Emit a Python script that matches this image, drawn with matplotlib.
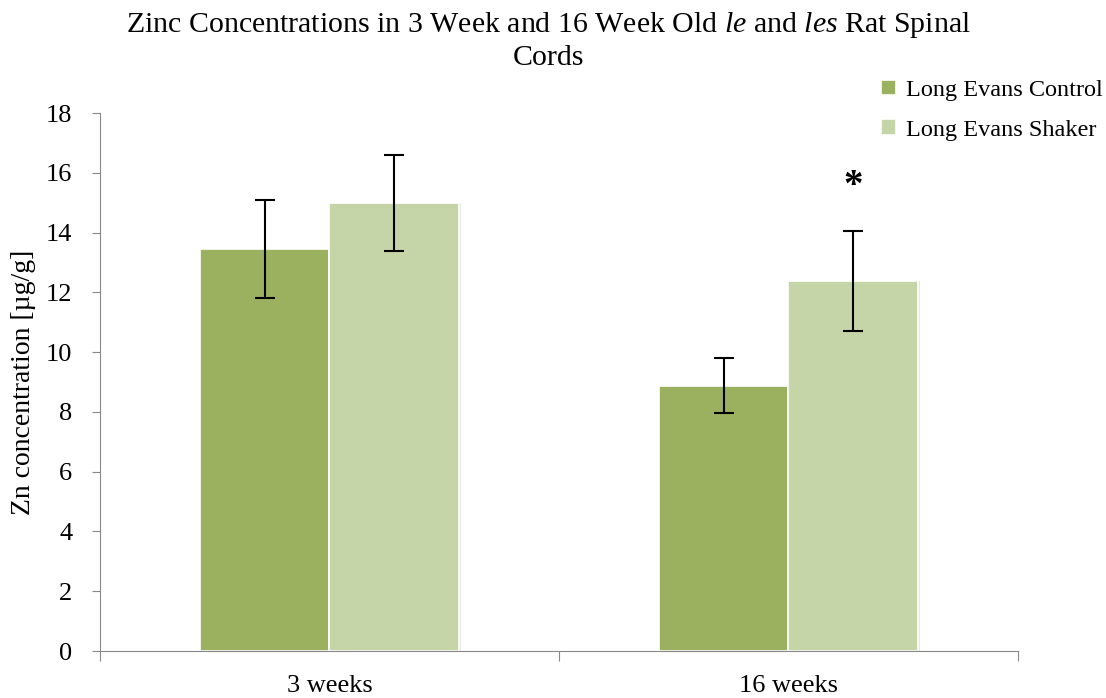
import matplotlib.pyplot as plt
import numpy as np

plt.rcParams['font.family'] = ['Liberation Serif', 'DejaVu Serif']
plt.rcParams['mathtext.fontset'] = 'custom'
plt.rcParams['mathtext.rm'] = 'Liberation Serif'
plt.rcParams['mathtext.it'] = 'Liberation Serif:italic'

# mean zinc levels and error ranges, ug/g
groups = ["3 weeks", "16 weeks"]
series = ["Long Evans Control", "Long Evans Shaker"]
control = [13.45, 8.88]
shaker = [14.98, 12.38]
control_err = [1.65, 0.93]
shaker_err = [1.6, 1.67]
colors = ["#9bb15f", "#c5d5a8"]

fig = plt.figure(figsize=(11.06, 6.98), dpi=100)
ax = fig.add_axes([0.0904, 0.0673, 0.83, 0.7708])

x = np.arange(len(groups))
w = 0.283
for i, (vals, errs) in enumerate([(control, control_err), (shaker, shaker_err)]):
    pos = x + (i - 0.5) * w
    # soft drop shadow behind the bars
    ax.bar(pos + 0.004, vals, w, color="#d8d8d8", zorder=1, alpha=0.6)
    ax.bar(pos, vals, w, color=colors[i], edgecolor="white", linewidth=1.2,
           label=series[i], zorder=2)
    ax.errorbar(pos, vals, yerr=errs, fmt="none", ecolor="black",
                elinewidth=1.5, capsize=7, capthick=1.5, zorder=3)

# significance marker over 16-week shaker
ax.text(x[1] + 0.5 * w, 15.55, "*", ha="center", va="center", fontsize=28,
        fontweight="bold")

ax.set_xlim(-0.5, 1.5)
ax.set_ylim(0, 18)
ax.set_yticks(range(0, 19, 2))
ax.set_xticks([-0.5, 0.5, 1.5])
ax.set_xticklabels([])
ax.set_xticks(x, minor=True)
ax.set_xticklabels(groups, minor=True, fontsize=19)
ax.tick_params(axis="x", which="minor", length=0, pad=17)
ax.tick_params(axis="x", which="major", length=7, color="#888888", direction="out")
ax.tick_params(axis="y", length=6, color="#888888", labelsize=19, pad=14)

for s in ["top", "right"]:
    ax.spines[s].set_visible(False)
for s in ["left", "bottom"]:
    ax.spines[s].set_color("#888888")

ax.set_ylabel("Zn concentration [µg/g]", fontsize=20)
ax.yaxis.set_label_coords(-0.07, 0.5)

fig.text(0.496, 0.985, "Zinc Concentrations in 3 Week and 16 Week Old $\\it{le}$ and $\\it{les}$ Rat Spinal\nCords",
         ha="center", va="top", fontsize=21.5, linespacing=1.25)

leg = fig.legend(loc="upper left", bbox_to_anchor=(0.777, 0.917), frameon=False,
                 fontsize=17.5, handlelength=0.6, handleheight=0.6,
                 handletextpad=0.4, labelspacing=0.75)

fig.savefig("out.png", dpi=100)
